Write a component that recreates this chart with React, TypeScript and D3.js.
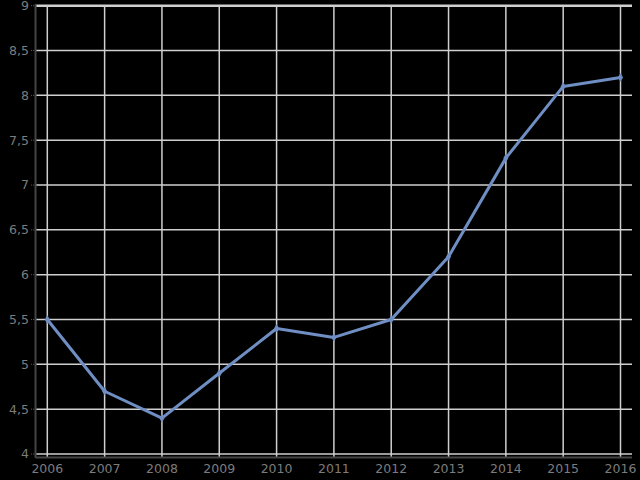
import React from "react";
import * as d3 from "d3";

const years = [2006, 2007, 2008, 2009, 2010, 2011, 2012, 2013, 2014, 2015, 2016];
const values = [5.5, 4.7, 4.4, 4.9, 5.4, 5.3, 5.5, 6.2, 7.3, 8.1, 8.2];
const yTicks = [4, 4.5, 5, 5.5, 6, 6.5, 7, 7.5, 8, 8.5, 9];

export default function App() {
  const W = 640, H = 480;
  const x = d3.scaleLinear().domain([2006, 2016]).range([47.3, 620.5]);
  const y = d3.scaleLinear().domain([4, 9]).range([454, 5.7]);
  const line = d3.line<number>().x((_, i) => x(years[i])).y((d) => y(d));
  const fmt = (v: number) => String(v).replace(".", ",");
  const diamond = d3.symbol().type(d3.symbolDiamond).size(22)();
  return (
    <svg width={W} height={H} style={{ position: "absolute", left: 0, top: 0, background: "#000" }}>
      <rect width={W} height={H} fill="#000" />
      {yTicks.map((t) => (
        <g key={t}>
          <line x1={36} x2={632} y1={y(t)} y2={y(t)} stroke="#cfcfcf" strokeWidth={t === 9 ? 2.5 : 1.5} />
          <line x1={31} x2={36} y1={y(t)} y2={y(t)} stroke="#555" strokeWidth={1} strokeDasharray="1,1" />
          <text x={29} y={y(t)} dy="0.35em" textAnchor="end" fill="#7c7c7c" fontSize={12.5} fontFamily="DejaVu Sans">{fmt(t)}</text>
        </g>
      ))}
      {years.map((yr) => (
        <g key={yr}>
          <line x1={x(yr)} x2={x(yr)} y1={5} y2={457} stroke="#cfcfcf" strokeWidth={1.5} />
          <text x={x(yr)} y={469} dy="0.35em" textAnchor="middle" fill="#7c7c7c" fontSize={12.5} fontFamily="DejaVu Sans">{yr}</text>
        </g>
      ))}
      <line x1={35.5} x2={35.5} y1={4} y2={458} stroke="#444" strokeWidth={2} />
      <line x1={36} x2={632} y1={457.5} y2={457.5} stroke="#444" strokeWidth={2} />
      <path d={line(values) || ""} fill="none" stroke="#6f8fc4" strokeWidth={3} strokeLinejoin="round" />
      {values.map((v, i) => (
        <path key={i} d={diamond || ""} transform={`translate(${x(years[i])},${y(v)})`} fill="#6f8fc4" />
      ))}
    </svg>
  );
}
